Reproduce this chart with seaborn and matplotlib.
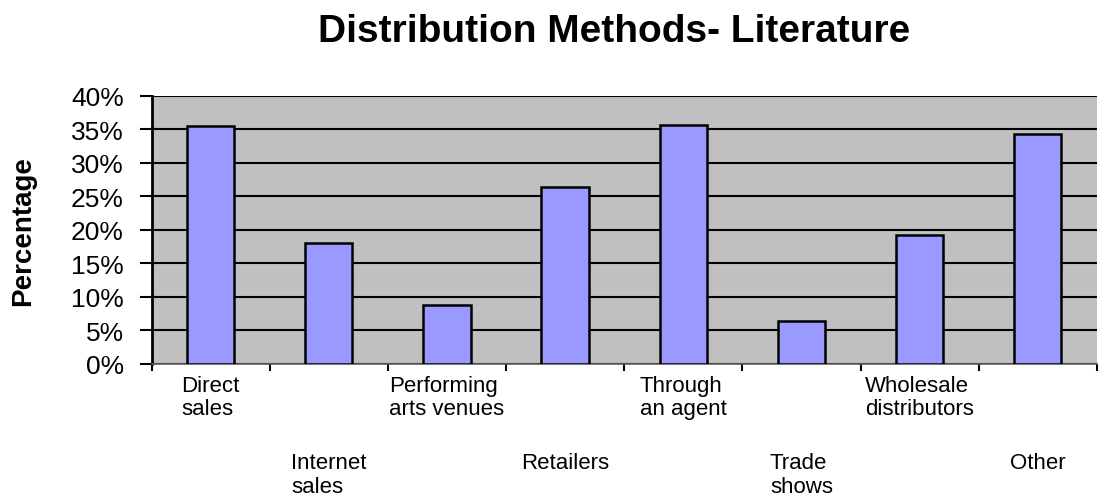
import matplotlib
matplotlib.use("Agg")
import matplotlib.pyplot as plt
import seaborn as sns
import pandas as pd
import numpy as np
from matplotlib.ticker import PercentFormatter, FixedLocator

# data
categories = ["Direct\nsales", "Internet\nsales", "Performing\narts venues", "Retailers",
              "Through\nan agent", "Trade\nshows", "Wholesale\ndistributors", "Other"]
percentages = [35.5, 18.1, 8.8, 26.4, 35.6, 6.4, 19.2, 34.3]
yticks = [0, 5, 10, 15, 20, 25, 30, 35, 40]

df = pd.DataFrame({"Method": categories, "Percentage": percentages})

sns.set_style("white")
plt.rcParams['font.family'] = ['Liberation Sans', 'DejaVu Sans']
plt.rcParams['text.color'] = 'black'
plt.rcParams['axes.labelcolor'] = 'black'
plt.rcParams['xtick.color'] = 'black'
plt.rcParams['ytick.color'] = 'black'

fig = plt.figure(figsize=(10.98, 5.02), dpi=100)
ax = fig.add_axes([0.138, 0.273, 0.861, 0.534])
ax.set_facecolor("#C0C0C0")

sns.barplot(data=df, x="Method", y="Percentage", color="#9999FF", saturation=1,
            width=0.4, edgecolor="black", linewidth=1.8, ax=ax, zorder=3)

ax.set_ylim(0, 40)
ax.set_xlim(-0.5, len(categories) - 0.5)
ax.yaxis.set_major_locator(FixedLocator(yticks))
ax.yaxis.set_major_formatter(PercentFormatter(decimals=0))
ax.grid(axis="y", color="black", linewidth=1.5, zorder=1)
ax.set_axisbelow(True)

for s in ["top", "right"]:
    ax.spines[s].set_visible(False)
ax.spines["left"].set_color("black")
ax.spines["left"].set_linewidth(2)
ax.spines["bottom"].set_color("#606060")
ax.spines["bottom"].set_linewidth(1.2)

ax.tick_params(axis="y", direction="out", length=9, width=1.5,
               labelsize=19, pad=11, left=True)

# category boundary ticks, labels drawn staggered like the original
ax.set_xticks(np.arange(len(categories) + 1) - 0.5)
ax.set_xticklabels([])
ax.tick_params(axis="x", direction="out", length=5, width=1.5, bottom=True)
for i, lab in enumerate(categories):
    yoff = -0.04 if i % 2 == 0 else -0.33
    ax.text(i, yoff, lab, transform=ax.get_xaxis_transform(), ha="center", va="top",
            multialignment="left", fontsize=16, linespacing=1.15)

ax.set_xlabel("")
ax.set_ylabel("Percentage", fontsize=20, fontweight="bold")
ax.yaxis.set_label_coords(-0.122, 0.5)
fig.text(0.559, 0.936, "Distribution Methods- Literature", ha="center", va="center",
         fontsize=28, fontweight="bold")

fig.savefig("out.png", dpi=100)
